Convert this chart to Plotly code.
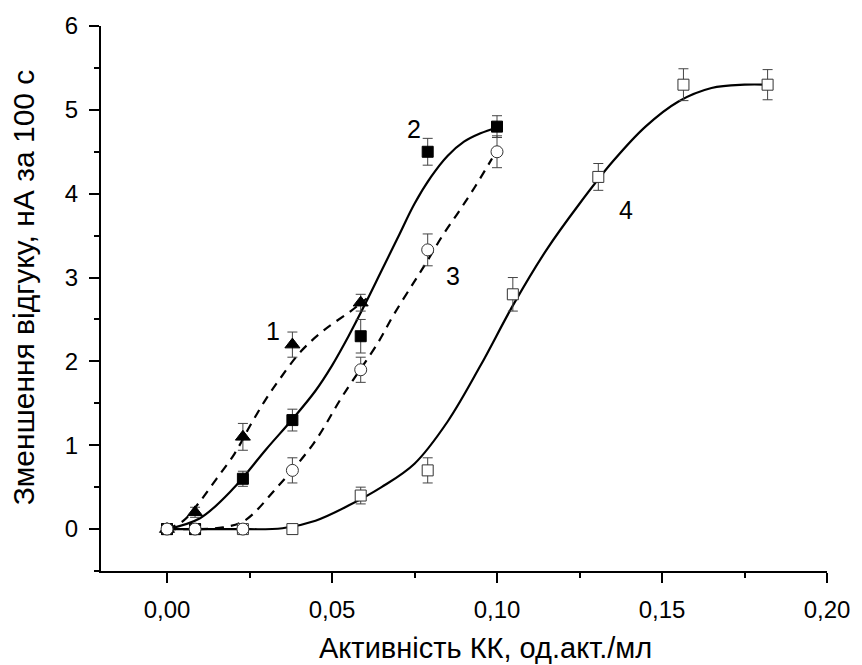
import plotly.graph_objects as go

# ---------------- data ----------------
# series 1: filled triangles
x1 = [0.0, 0.0085, 0.023, 0.038, 0.0587]
y1 = [0.0, 0.2, 1.1, 2.2, 2.7]
e1 = [0.0, 0.06, 0.16, 0.15, 0.1]

# series 2: filled squares
x2 = [0.0, 0.0085, 0.023, 0.038, 0.0587, 0.079, 0.10]
y2 = [0.0, 0.0, 0.6, 1.3, 2.3, 4.5, 4.8]
e2 = [0.0, 0.0, 0.09, 0.13, 0.2, 0.16, 0.13]

# series 3: open circles
x3 = [0.0, 0.0085, 0.023, 0.038, 0.0587, 0.079, 0.10]
y3 = [0.0, 0.0, 0.0, 0.7, 1.9, 3.33, 4.5]
e3 = [0.0, 0.0, 0.0, 0.15, 0.15, 0.19, 0.19]

# series 4: open squares
x4 = [0.0, 0.0085, 0.023, 0.038, 0.0587, 0.079, 0.1048, 0.1307, 0.1565, 0.182]
y4 = [0.0, 0.0, 0.0, 0.0, 0.4, 0.7, 2.8, 4.2, 5.3, 5.3]
e4 = [0.0, 0.0, 0.0, 0.0, 0.1, 0.15, 0.2, 0.16, 0.19, 0.18]

# fitted curves
c1x = [0.0, 0.005, 0.01, 0.015, 0.0205, 0.025, 0.0295, 0.034, 0.0406, 0.0475, 0.0557, 0.0605]
c1y = [0.0, 0.1, 0.33, 0.6, 0.9, 1.22, 1.52, 1.78, 2.12, 2.37, 2.6, 2.75]

c2x = [0.0, 0.01, 0.02, 0.03, 0.038, 0.045, 0.05, 0.055, 0.06, 0.065,
       0.07, 0.075, 0.08, 0.085, 0.09, 0.095, 0.10]
c2y = [0.0, 0.13, 0.48, 0.95, 1.31, 1.65, 1.95, 2.3, 2.68, 3.08,
       3.48, 3.88, 4.2, 4.45, 4.62, 4.72, 4.79]

c3x = [0.0, 0.01, 0.017, 0.0235, 0.0334, 0.0444, 0.0534, 0.0639, 0.0686, 0.0746,
       0.0786, 0.0835, 0.0885, 0.0933, 0.0985]
c3y = [0.0, 0.0, 0.02, 0.1, 0.5, 1.02, 1.6, 2.22, 2.55, 2.93,
       3.18, 3.5, 3.79, 4.08, 4.42]

c4x = [0.0, 0.02, 0.035, 0.045, 0.055, 0.065, 0.075, 0.085, 0.095, 0.105,
       0.115, 0.125, 0.135, 0.145, 0.155, 0.165, 0.175, 0.182]
c4y = [0.0, 0.0, 0.01, 0.1, 0.28, 0.5, 0.78, 1.28, 1.95, 2.68,
       3.33, 3.88, 4.38, 4.8, 5.1, 5.26, 5.3, 5.3]

# curve labels
lab_text = ["1", "2", "3", "4"]
lab_x = [0.032, 0.0749, 0.0868, 0.139]
lab_y = [2.36, 4.77, 3.02, 3.8]

x_ticks = [0.0, 0.05, 0.10, 0.15, 0.20]
x_ticktext = ["0,00", "0,05", "0,10", "0,15", "0,20"]
y_ticks = [0, 1, 2, 3, 4, 5, 6]

x_title = "Активність КК, од.акт./мл"
y_title = "Зменшення відгуку, нА за 100 с"

FONT = "Liberation Sans, Arial, sans-serif"

W, H = 862, 665
ML, MR, MT, MB = 101, 27, 25, 94
PW, PH = W - ML - MR, H - MT - MB


def px_to_paper(px, py):
    return (px - ML) / PW, (H - MB - py) / PH


fig = go.Figure()

dash = "9px,7px"
for cx, cy, d in [(c1x, c1y, dash), (c2x, c2y, "solid"), (c3x, c3y, dash), (c4x, c4y, "solid")]:
    fig.add_trace(go.Scatter(x=cx, y=cy, mode="lines",
                             line=dict(color="black", width=2.2, dash=d, shape="spline", smoothing=1.0),
                             hoverinfo="skip", showlegend=False))

err = dict(type="data", color="#444444", thickness=1, width=5)

fig.add_trace(go.Scatter(x=x4, y=y4, mode="markers",
                         marker=dict(symbol="square", size=11, color="white", line=dict(color="#333333", width=1)),
                         error_y=dict(array=e4, **err), showlegend=False))
fig.add_trace(go.Scatter(x=x1, y=y1, mode="markers",
                         marker=dict(symbol="triangle-up", size=13, color="black", line=dict(color="black", width=1)),
                         error_y=dict(array=e1, **err), showlegend=False))
fig.add_trace(go.Scatter(x=x2, y=y2, mode="markers",
                         marker=dict(symbol="square", size=11, color="black", line=dict(color="black", width=1)),
                         error_y=dict(array=e2, **err), showlegend=False))
fig.add_trace(go.Scatter(x=x3, y=y3, mode="markers",
                         marker=dict(symbol="circle", size=12, color="white", line=dict(color="#333333", width=1)),
                         error_y=dict(array=e3, **err), showlegend=False))

for t, lx, ly in zip(lab_text, lab_x, lab_y):
    fig.add_annotation(x=lx, y=ly, text=t, showarrow=False, xref="x", yref="y",
                       xanchor="center", yanchor="middle",
                       font=dict(family=FONT, size=25, color="black"))

# axis titles as annotations for exact placement
tx, ty = px_to_paper(490, 648)
fig.add_annotation(x=tx, y=ty, xref="paper", yref="paper", text=x_title, showarrow=False,
                   xanchor="center", yanchor="middle",
                   font=dict(family=FONT, size=29, color="black"))
tx, ty = px_to_paper(23, 287)
fig.add_annotation(x=tx, y=ty, xref="paper", yref="paper", text=y_title, showarrow=False,
                   xanchor="center", yanchor="middle", textangle=-90,
                   font=dict(family=FONT, size=30, color="black"))

axis_common = dict(showgrid=False, zeroline=False, showline=True, linecolor="black", linewidth=2,
                   ticks="outside", ticklen=10, tickwidth=2, tickcolor="black",
                   tickfont=dict(family=FONT, size=24, color="black"), mirror=False)

fig.update_xaxes(range=[-0.02, 0.2], tickvals=x_ticks, ticktext=x_ticktext,
                 minor=dict(ticks="outside", ticklen=5, tickwidth=2, tickcolor="black", dtick=0.025, tick0=0,
                            showgrid=False),
                 ticklabelstandoff=6, **axis_common)
fig.update_yaxes(range=[-0.5, 6], tickvals=y_ticks,
                 minor=dict(ticks="outside", ticklen=5, tickwidth=2, tickcolor="black", dtick=0.5, tick0=0,
                            showgrid=False),
                 ticklabelstandoff=6, **axis_common)

fig.update_layout(width=W, height=H, margin=dict(l=ML, r=MR, t=MT, b=MB),
                  paper_bgcolor="white", plot_bgcolor="white", showlegend=False,
                  font=dict(family=FONT, color="black"))

fig.write_html("out.html")
